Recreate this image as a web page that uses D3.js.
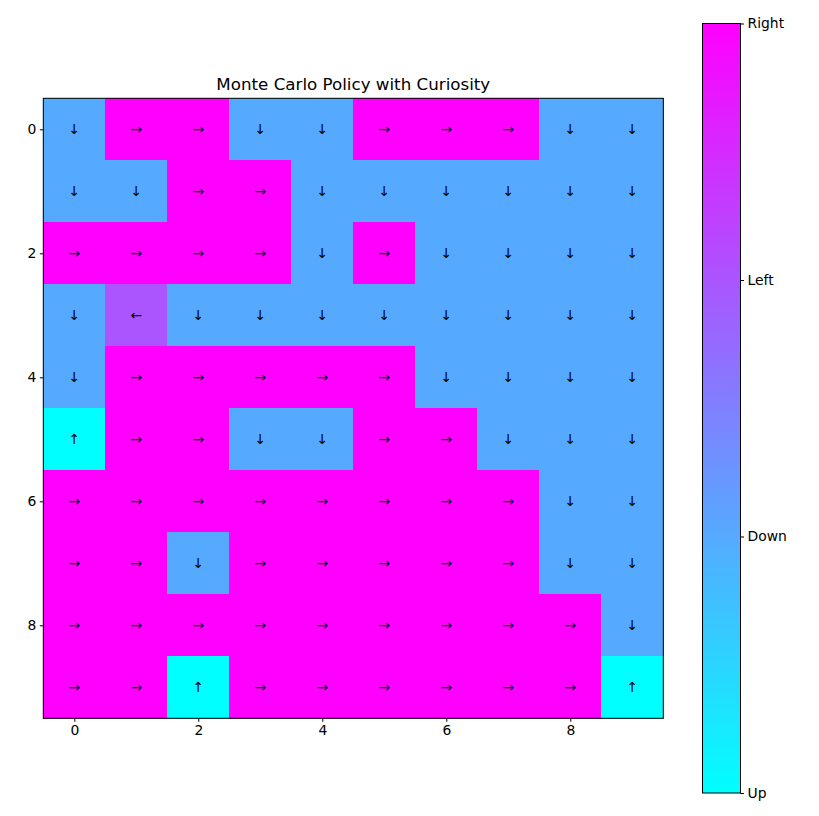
<!DOCTYPE html>
<html><head><meta charset="utf-8">
<script src="https://cdn.jsdelivr.net/npm/d3@7"></script>
<style>body{margin:0;background:#fff}svg{display:block}text{font-family:"DejaVu Sans",sans-serif}</style>
</head><body><svg id="c" width="819" height="816"></svg>
<script>
const title = "Monte Carlo Policy with Curiosity";
const actionNames = ["Up","Down","Left","Right"];
const arrows = ["↑","↓","←","→"];
const policy = [
 [1,3,3,1,1,3,3,3,1,1],
 [1,1,3,3,1,1,1,1,1,1],
 [3,3,3,3,1,3,1,1,1,1],
 [1,2,1,1,1,1,1,1,1,1],
 [1,3,3,3,3,3,1,1,1,1],
 [0,3,3,1,1,3,3,1,1,1],
 [3,3,3,3,3,3,3,3,1,1],
 [3,3,1,3,3,3,3,3,1,1],
 [3,3,3,3,3,3,3,3,3,1],
 [3,3,0,3,3,3,3,3,3,0]
];
const axisTicks = [0,2,4,6,8];

const svg = d3.select("#c");
const L=43.3,T=98.3,S=620;
const n = policy.length;
const x = d3.scaleLinear().domain([-0.5,n-0.5]).range([L,L+S]);
const y = d3.scaleLinear().domain([-0.5,n-0.5]).range([T,T+S]);
const cool = v => { const t=v/3; return d3.rgb(Math.round(255*t),Math.round(255*(1-t)),255).toString(); };

const cells=[];
policy.forEach((r,i)=>r.forEach((v,j)=>cells.push({i,j,v})));
svg.append("g").selectAll("rect").data(cells).join("rect")
 .attr("x",d=>x(d.j-0.5)).attr("y",d=>y(d.i-0.5))
 .attr("width",x(1)-x(0)+0.5).attr("height",y(1)-y(0)+0.5)
 .attr("fill",d=>cool(d.v)).attr("shape-rendering","crispEdges");
svg.append("g").selectAll("text").data(cells).join("text")
 .attr("x",d=>x(d.j)).attr("y",d=>y(d.i)).attr("dy","0.35em")
 .attr("text-anchor","middle").attr("font-size",13.9).attr("fill","#000")
 .text(d=>arrows[d.v]);
svg.append("rect").attr("x",L).attr("y",T).attr("width",S).attr("height",S)
 .attr("fill","none").attr("stroke","#000").attr("stroke-width",1);

const xa = svg.append("g").attr("transform",`translate(0,${T+S})`)
 .call(d3.axisBottom(x).tickValues(axisTicks).tickSize(3.5).tickPadding(3.5));
const ya = svg.append("g").attr("transform",`translate(${L},0)`)
 .call(d3.axisLeft(y).tickValues(axisTicks).tickSize(3.5).tickPadding(3.5));
[xa,ya].forEach(a=>{a.select(".domain").remove();a.selectAll("text").attr("font-size",13.9).attr("font-family","DejaVu Sans").attr("fill","#000");a.selectAll("line").attr("stroke","#000");});

svg.append("text").attr("x",L+S/2).attr("y",T-8).attr("text-anchor","middle")
 .attr("font-size",16.7).attr("fill","#000").text(title);

// colorbar
const cbL=702.5,cbW=38,cbT=23.5,cbB=793;
const cy = d3.scaleLinear().domain([0,3]).range([cbB,cbT]);
const defs=svg.append("defs");
const g=defs.append("linearGradient").attr("id","grad").attr("x1",0).attr("y1",1).attr("x2",0).attr("y2",0);
d3.range(0,1.0001,0.1).forEach(t=>g.append("stop").attr("offset",t).attr("stop-color",cool(t*3)));
svg.append("rect").attr("x",cbL).attr("y",cbT).attr("width",cbW).attr("height",cbB-cbT)
 .attr("fill","url(#grad)").attr("stroke","#000").attr("stroke-width",1);
const ca = svg.append("g").attr("transform",`translate(${cbL+cbW},0)`)
 .call(d3.axisRight(cy).tickValues([0,1,2,3]).tickFormat(d=>actionNames[d]).tickSize(3.5).tickPadding(3.5));
ca.select(".domain").remove();
ca.selectAll("text").attr("font-size",13.9).attr("font-family","DejaVu Sans").attr("fill","#000");
ca.selectAll("line").attr("stroke","#000");
</script></body></html>
